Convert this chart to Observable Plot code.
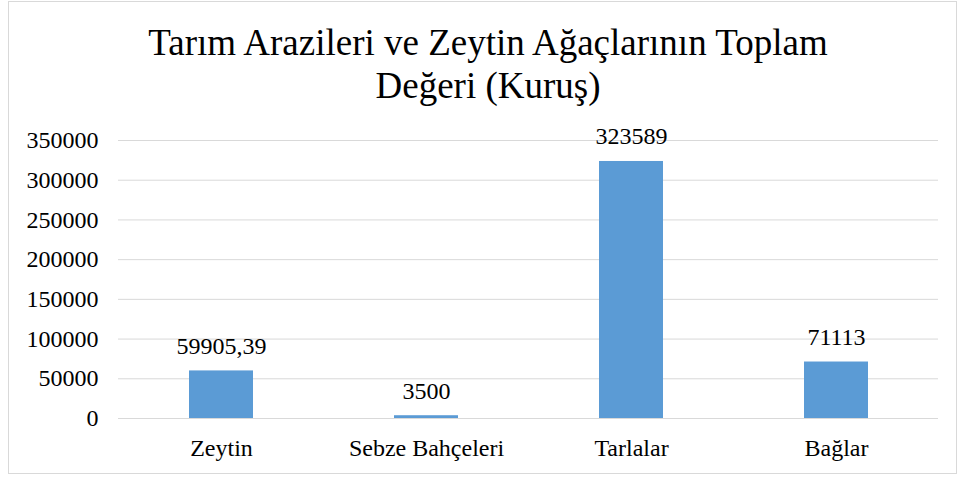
<!DOCTYPE html>
<html>
<head>
<meta charset="utf-8">
<script src="https://cdn.jsdelivr.net/npm/d3@7"></script>
<script src="https://cdn.jsdelivr.net/npm/@observablehq/plot@0.6"></script>
<style>
  html, body { margin: 0; padding: 0; background: #fff; }
  #wrap { position: relative; width: 960px; height: 477px; overflow: hidden; font-family: "Liberation Serif", "Times New Roman", serif; }
  #frame { position: absolute; left: 8px; top: 1px; width: 949px; height: 473px; border: 1px solid #d9d9d9; box-sizing: border-box; pointer-events: none; }
  #title { position: absolute; left: 8px; width: 960px; top: 21px; text-align: center; font-size: 37px; line-height: 43px; color: #000; }
  #chart { position: absolute; left: 0; top: 110px; }
</style>
</head>
<body>
<div id="wrap">
  <div id="frame"></div>
  <div id="title">Tarım Arazileri ve Zeytin Ağaçlarının Toplam<br>Değeri (Kuruş)</div>
  <div id="chart"></div>
</div>
<script>
const categories = ["Zeytin", "Sebze Bahçeleri", "Tarlalar", "Bağlar"];
const values = [59905.39, 3500, 323589, 71113];
const valueLabels = ["59905,39", "3500", "323589", "71113"];
const yTicks = [0, 50000, 100000, 150000, 200000, 250000, 300000, 350000];

const data = categories.map((c, i) => ({category: c, value: values[i], label: valueLabels[i]}));
const SERIF = "Liberation Serif";

const chart = Plot.plot({
  width: 960,
  height: 367,
  marginLeft: 118,
  marginRight: 22,
  marginTop: 30,
  marginBottom: 59,
  style: {background: "transparent", color: "#000"},
  x: {domain: categories, paddingInner: 0.69, paddingOuter: 0.345, label: null},
  y: {domain: [0, 350000], label: null},
  marks: [
    Plot.gridY(yTicks, {stroke: "#d9d9d9", strokeOpacity: 1, strokeWidth: 1}),
    Plot.barY(data, {x: "category", y: "value", fill: "#5b9bd5"}),
    Plot.text(data, {x: "category", y: "value", text: "label", dy: -17, lineAnchor: "bottom", fontSize: 24, fontFamily: SERIF, fill: "#000"}),
    Plot.axisY(yTicks, {tickSize: 0, tickPadding: 20, fontSize: 24, fontFamily: SERIF, tickFormat: d3.format("d"), label: null}),
    Plot.axisX({tickSize: 0, tickPadding: 20, fontSize: 24, fontFamily: SERIF, label: null})
  ]
});
d3.select(chart).selectAll("text, g").attr("font-family", SERIF).style("font-family", SERIF);
d3.select(chart).style("font-family", SERIF);
document.getElementById("chart").appendChild(chart);
</script>
</body>
</html>
